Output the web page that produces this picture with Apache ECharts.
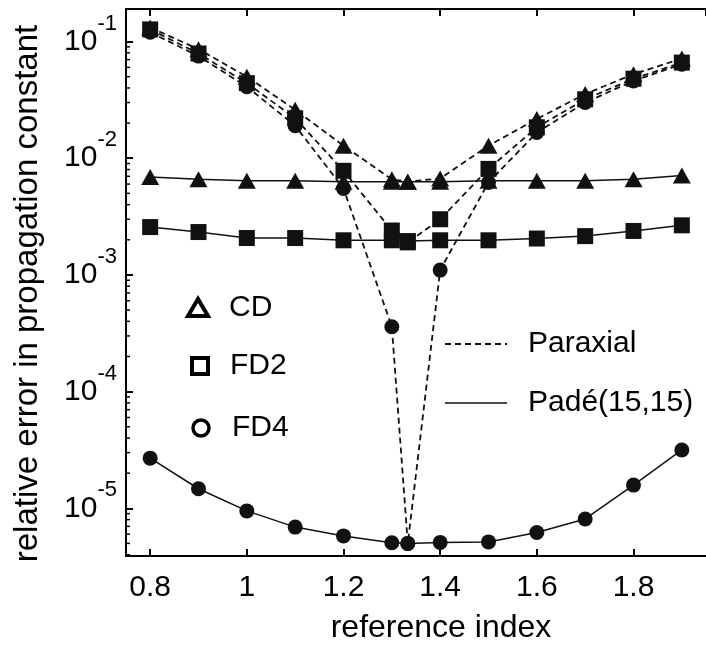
<!DOCTYPE html>
<head>
<meta charset="utf-8">
<title>relative error</title>
</head>
<body style="margin:0;background:#fff">
<div id="main" style="width: 706px; height: 649px"></div>
<script src="https://cdn.jsdelivr.net/npm/echarts@6/dist/echarts.min.js"></script>
<script>
var xVals = [0.8, 0.9, 1.0, 1.1, 1.2, 1.3, 1.333, 1.4, 1.5, 1.6, 1.7, 1.8, 1.9];

var cdParaxial  = [0.132, 0.086, 0.050, 0.026, 0.0128, 0.0066, 0.0063, 0.0067, 0.0128, 0.0217, 0.0355, 0.0525, 0.0714];
var cdPade      = [0.0069, 0.0066, 0.0064, 0.0064, 0.0063, 0.0063, 0.0063, 0.0063, 0.0064, 0.0064, 0.0064, 0.0066, 0.0071];
var fd2Paraxial = [0.127, 0.079, 0.044, 0.022, 0.0078, 0.0024, 0.0019, 0.0030, 0.0081, 0.0184, 0.032, 0.048, 0.066];
var fd2Pade     = [0.00257, 0.00233, 0.00207, 0.00207, 0.00198, 0.00198, 0.00195, 0.00198, 0.00198, 0.00205, 0.00215, 0.00238, 0.00266];
var fd4Paraxial = [0.120, 0.075, 0.041, 0.019, 0.0055, 0.00036, 0.0000050, 0.0011, 0.0062, 0.0166, 0.030, 0.046, 0.064];
var fd4Pade     = [2.69e-5, 1.47e-5, 9.5e-6, 6.9e-6, 5.8e-6, 5.06e-6, 5.0e-6, 5.1e-6, 5.15e-6, 6.2e-6, 8.1e-6, 1.58e-5, 3.16e-5];

var xMin = 0.75, xMax = 1.95;
var yMin = 3.9e-6, yMax = 0.19;

// minor ticks of the log axis (2..9 x 10^e)
var minorTickVals = [];
for (var e = -6; e <= -1; e++) {
    for (var k = 2; k <= 9; k++) {
        var v = k * Math.pow(10, e);
        if (v > yMin && v < yMax) minorTickVals.push(v);
    }
}

var FONT = '"Liberation Sans", Arial, sans-serif';

function pairs(arr) {
    return xVals.map(function (x, i) { return [x, arr[i]]; });
}

function makeSeries(name, arr, symbol, size, dashed) {
    return {
        name: name,
        type: 'line',
        data: pairs(arr),
        symbol: symbol,
        symbolSize: size,
        showSymbol: true,
        z: dashed ? 3 : 4,
        itemStyle: { color: '#111', borderWidth: 0 },
        lineStyle: dashed
            ? { color: '#111', width: 1.8, type: [6, 4] }
            : { color: '#111', width: 1.5, type: 'solid' },
        emphasis: { disabled: true },
        animation: false
    };
}

var myChart = echarts.init(document.getElementById('main'));
myChart.setOption({
    backgroundColor: '#fff',
    animation: false,
    grid: { left: 126, right: -8, top: 9, bottom: 90 },
    xAxis: [{
        type: 'value',
        min: xMin,
        max: xMax,
        name: 'reference index',
        nameLocation: 'middle',
        nameGap: 56,
        nameTextStyle: { fontFamily: FONT, fontSize: 32, color: '#000', padding: [0, 0, 0, 50] },
        axisLine: { lineStyle: { color: '#000', width: 2 } },
        axisTick: { inside: true, length: 7, lineStyle: { color: '#000', width: 2 } },
        axisLabel: {
            showMinLabel: false, showMaxLabel: false,
            margin: 17, fontFamily: FONT, fontSize: 30, color: '#000'
        },
        splitLine: { show: false }
    }, {
        type: 'value',
        position: 'top',
        min: xMin,
        max: xMax,
        axisLine: { lineStyle: { color: '#000', width: 2 } },
        axisTick: { inside: true, length: 7, lineStyle: { color: '#000', width: 2 } },
        axisLabel: { show: false },
        splitLine: { show: false }
    }],
    yAxis: {
        type: 'log',
        logBase: 10,
        min: yMin,
        max: yMax,
        name: 'relative error in propagation constant',
        nameLocation: 'middle',
        nameRotate: 90,
        nameGap: 82,
        nameTextStyle: { fontFamily: FONT, fontSize: 33, color: '#000', padding: [0, 22, 0, 0] },
        axisLine: { lineStyle: { color: '#000', width: 2 } },
        axisTick: { inside: true, length: 7, lineStyle: { color: '#000', width: 2 } },
        axisLabel: {
            margin: 9,
            showMinLabel: false, showMaxLabel: false,
            formatter: function (v) {
                var lg = Math.log(v) / Math.LN10;
                var ex = Math.round(lg);
                if (Math.abs(lg - ex) > 1e-6) return '';
                return '{b|10}{s|' + ex + '}';
            },
            rich: {
                b: { fontFamily: FONT, fontSize: 30, color: '#000', lineHeight: 58, verticalAlign: 'middle' },
                s: { fontFamily: FONT, fontSize: 22, color: '#000', lineHeight: 22, verticalAlign: 'top' }
            }
        },
        splitLine: { show: false }
    },
    graphic: [
        { type: 'polygon', shape: { points: [[188, 316], [198, 299], [208, 316]] },
          style: { fill: '#fff', stroke: '#000', lineWidth: 4 } },
        { type: 'text', x: 229, y: 308, style: { text: 'CD', font: '30px ' + FONT, fill: '#000', verticalAlign: 'middle' } },
        { type: 'rect', shape: { x: 192, y: 358, width: 16, height: 16 },
          style: { fill: '#fff', stroke: '#000', lineWidth: 4 } },
        { type: 'text', x: 230, y: 366, style: { text: 'FD2', font: '30px ' + FONT, fill: '#000', verticalAlign: 'middle' } },
        { type: 'circle', shape: { cx: 201, cy: 428, r: 8 },
          style: { fill: '#fff', stroke: '#000', lineWidth: 3.5 } },
        { type: 'text', x: 232, y: 428, style: { text: 'FD4', font: '30px ' + FONT, fill: '#000', verticalAlign: 'middle' } },
        { type: 'line', shape: { x1: 445, y1: 344, x2: 507, y2: 344 },
          style: { stroke: '#111', lineWidth: 1.8, lineDash: [6, 4] } },
        { type: 'text', x: 528, y: 344, style: { text: 'Paraxial', font: '30px ' + FONT, fill: '#000', verticalAlign: 'middle' } },
        { type: 'line', shape: { x1: 445, y1: 403, x2: 507, y2: 403 },
          style: { stroke: '#111', lineWidth: 1.5 } },
        { type: 'text', x: 528, y: 403, style: { text: 'Padé(15,15)', font: '30px ' + FONT, fill: '#000', verticalAlign: 'middle' } }
    ],
    series: [
        makeSeries('CD Paraxial', cdParaxial, 'triangle', [18, 16], true),
        makeSeries('FD2 Paraxial', fd2Paraxial, 'rect', 16, true),
        makeSeries('FD4 Paraxial', fd4Paraxial, 'circle', 15, true),
        makeSeries('CD Padé', cdPade, 'triangle', [18, 16], false),
        makeSeries('FD2 Padé', fd2Pade, 'rect', 16, false),
        makeSeries('FD4 Padé', fd4Pade, 'circle', 15, false),
        {
            type: 'custom',
            xAxisIndex: 1,
            silent: true,
            data: minorTickVals.map(function (v) { return [xMin, v]; }),
            renderItem: function (params, api) {
                var p = api.coord([api.value(0), api.value(1)]);
                return {
                    type: 'line',
                    shape: { x1: p[0], y1: p[1], x2: p[0] + 4, y2: p[1] },
                    style: { stroke: '#000', lineWidth: 1.5 }
                };
            }
        }
    ]
});
</script>
</body>
</html>
